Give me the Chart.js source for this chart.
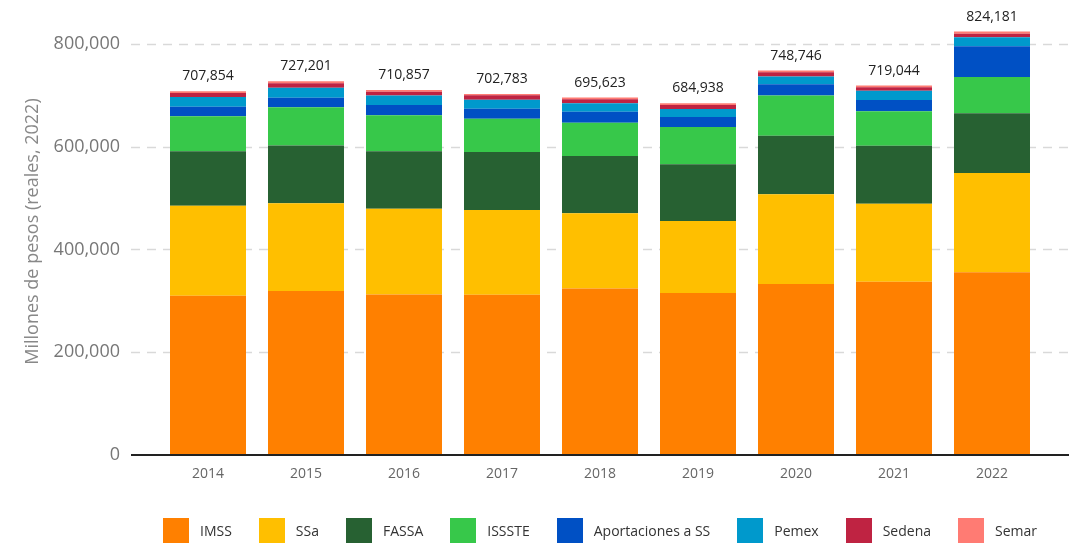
<!DOCTYPE html>
<html>
<head>
<meta charset="utf-8">
<script src="https://cdn.jsdelivr.net/npm/chart.js@4.4.1/dist/chart.umd.min.js"></script>
<style>
  html, body { margin: 0; padding: 0; background: #fff; }
  #wrap { position: relative; width: 1076px; height: 545px; }
  #legend { position: absolute; left: 159px; width: 882px; top: 518px; height: 25px;
    display: flex; justify-content: center; align-items: center;
    font-family: "Open Sans", sans-serif; font-size: 14px; color: #333; }
  .item { display: flex; align-items: center; margin: 0 13.5px; white-space: nowrap; }
  .box { width: 26px; height: 25px; margin-right: 11px; }
</style>
</head>
<body>
<div id="wrap">
  <canvas id="c" width="1076" height="545"></canvas>
  <div id="legend"></div>
</div>
<script>
const years = ['2014','2015','2016','2017','2018','2019','2020','2021','2022'];
const totals = [707854, 727201, 710857, 702783, 695623, 684938, 748746, 719044, 824181];
const seriesNames = ['IMSS','SSa','FASSA','ISSSTE','Aportaciones a SS','Pemex','Sedena','Semar'];
const seriesColors = ['#FF8000','#FFBF00','#276132','#37C84A','#0050C4','#0099CC','#BF2342','#FF7B73'];
const imss   = [310000, 319200, 312500, 312000, 324000, 315300, 332900, 337300, 355600];
const ssa    = [175300, 170700, 166800, 164900, 146400, 140100, 174600, 151800, 193300];
const fassa  = [105700, 112500, 112100, 112900, 111500, 110400, 114100, 112900, 116200];
const issste = [ 68100,  74400,  70100,  64800,  65000,  72600,  77900,  67000,  70700];
const aport  = [ 18900,  18700,  19500,  19500,  21400,  19500,  22200,  22000,  59800];
const pemex  = [ 18900,  19500,  18900,  17500,  16200,  15600,  14800,  18100,  17500];
const sedena = [  7800,   8600,   7200,   8400,   7800,   7800,   8600,   6600,   7000];
const semar  = [  3100,   3600,   3400,   2700,   3300,   3300,   3100,   3300,   4100];
const yTicks = [0, 200000, 400000, 600000, 800000];

const seriesData = [imss, ssa, fassa, issste, aport, pemex, sedena, semar];
const fmt = v => v.toLocaleString('en-US');
const FONT = '"Open Sans", sans-serif';

const gridPlugin = {
  id: 'gridPlugin',
  beforeDatasetsDraw(chart) {
    const {ctx, chartArea, scales} = chart;
    const y = scales.y;
    const l = chartArea.left - 28, r = chartArea.right + 28;
    ctx.save();
    ctx.strokeStyle = '#d9d9d9';
    ctx.lineWidth = 1.5;
    ctx.setLineDash([9, 7]);
    yTicks.forEach(t => {
      if (t === 0) return;
      const py = Math.round(y.getPixelForValue(t)) + 0.5;
      ctx.beginPath(); ctx.moveTo(l, py); ctx.lineTo(r, py); ctx.stroke();
    });
    ctx.restore();
  },
  afterDatasetsDraw(chart) {
    const {ctx, chartArea, scales} = chart;
    const x = scales.x, y = scales.y;
    const l = chartArea.left - 28, r = chartArea.right + 28;
    ctx.save();
    ctx.strokeStyle = '#222';
    ctx.lineWidth = 2;
    const p0 = y.getPixelForValue(0);
    ctx.beginPath(); ctx.moveTo(l, p0); ctx.lineTo(r, p0); ctx.stroke();
    ctx.fillStyle = '#222';
    ctx.font = '14px ' + FONT;
    ctx.textAlign = 'center';
    ctx.textBaseline = 'alphabetic';
    years.forEach((yr, i) => {
      let s = 0;
      seriesData.forEach(arr => s += arr[i]);
      const px = x.getPixelForValue(i);
      const py = y.getPixelForValue(s);
      ctx.fillText(fmt(totals[i]), px, py - 11);
    });
    ctx.restore();
  }
};

const datasets = seriesNames.map((n, k) => ({
  label: n,
  data: seriesData[k],
  backgroundColor: seriesColors[k],
  borderWidth: 0,
  categoryPercentage: 1,
  barPercentage: 0.7755
}));

new Chart(document.getElementById('c'), {
  type: 'bar',
  data: { labels: years, datasets },
  plugins: [gridPlugin],
  options: {
    responsive: false,
    animation: false,
    layout: { padding: { left: 0, right: 35, top: 8, bottom: 50 } },
    plugins: { legend: { display: false }, tooltip: { enabled: false } },
    scales: {
      x: {
        stacked: true,
        grid: { display: false },
        border: { display: false },
        ticks: { color: '#666', font: { family: FONT, size: 14 }, padding: 3 },
        afterFit(s) { s.height = 40; }
      },
      y: {
        stacked: true,
        min: 0, max: 870000,
        grid: { display: false },
        border: { display: false },
        afterBuildTicks(s) { s.ticks = yTicks.map(v => ({ value: v })); },
        ticks: { color: '#777', font: { family: FONT, size: 18 }, padding: 31,
          callback: v => fmt(v) },
        title: { display: true, text: 'Millones de pesos (reales, 2022)', color: '#888',
          font: { family: FONT, size: 18 }, padding: { top: 22, bottom: 0 } },
        afterFit(s) { s.width = 159; s.paddingTop = 0; s.paddingBottom = 0; }
      }
    }
  }
});

const lg = document.getElementById('legend');
seriesNames.forEach((n, k) => {
  const it = document.createElement('div'); it.className = 'item';
  const b = document.createElement('div'); b.className = 'box'; b.style.background = seriesColors[k];
  const t = document.createElement('span'); t.textContent = n;
  it.appendChild(b); it.appendChild(t); lg.appendChild(it);
});
</script>
</body>
</html>
